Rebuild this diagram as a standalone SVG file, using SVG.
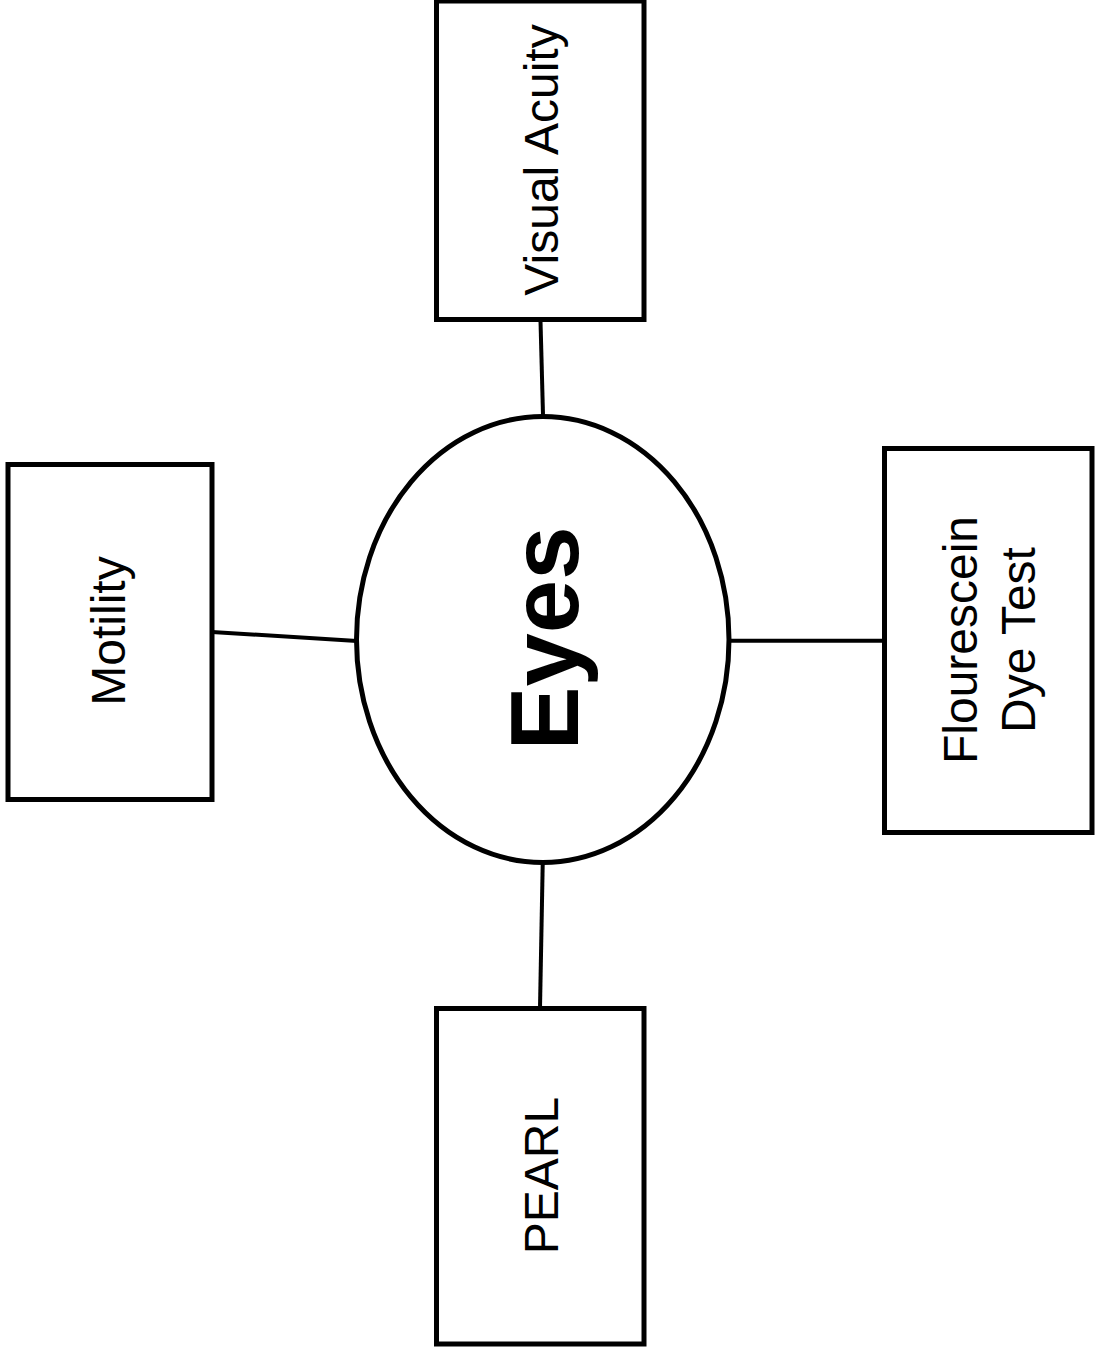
<svg xmlns="http://www.w3.org/2000/svg" width="1095" height="1350" viewBox="0 0 1095 1350">
  <style>
    .box { fill: #ffffff; stroke: #000000; stroke-width: 5; }
    .conn { stroke: #000000; stroke-width: 4; fill: none; }
    .lbl { font-family: "Liberation Sans", Arial, Helvetica, sans-serif; font-size: 48px; fill: #000000; text-anchor: middle; }
    .big { font-family: "Liberation Sans", Arial, Helvetica, sans-serif; font-size: 96px; font-weight: bold; fill: #000000; text-anchor: middle; }
  </style>
  <rect x="0" y="0" width="1095" height="1350" fill="#ffffff"/>
  <g id="connectors">
    <line class="conn" x1="540.5" y1="321" x2="543" y2="415"/>
    <line class="conn" x1="542.7" y1="864" x2="540" y2="1008"/>
    <line class="conn" x1="212" y1="632" x2="357" y2="641"/>
    <line class="conn" x1="729" y1="640.7" x2="884" y2="640.7"/>
  </g>
  <g id="node-eyes">
    <ellipse class="box" cx="542.75" cy="639.5" rx="186.25" ry="223"/>
    <text class="big" transform="translate(543,638.5) rotate(-90)" x="0" y="35">Eyes</text>
  </g>
  <g id="node-visual-acuity">
    <rect class="box" x="436.5" y="1" width="207.5" height="318.5"/>
    <text class="lbl" transform="translate(540.5,160) rotate(-90)" x="0" y="17.5">Visual Acuity</text>
  </g>
  <g id="node-motility">
    <rect class="box" x="8" y="464.5" width="204" height="335"/>
    <text class="lbl" transform="translate(107.5,631) rotate(-90)" x="0" y="17.5">Motility</text>
  </g>
  <g id="node-fluorescein">
    <rect class="box" x="884.5" y="448.5" width="207.5" height="384"/>
    <text class="lbl" transform="translate(988,640) rotate(-90)" x="0" y="-11">Flourescein</text>
    <text class="lbl" transform="translate(988,640) rotate(-90)" x="0" y="47">Dye Test</text>
  </g>
  <g id="node-pearl">
    <rect class="box" x="436.5" y="1008.5" width="207.5" height="335.5"/>
    <text class="lbl" transform="translate(540.5,1175.5) rotate(-90)" x="0" y="17.5">PEARL</text>
  </g>
</svg>
